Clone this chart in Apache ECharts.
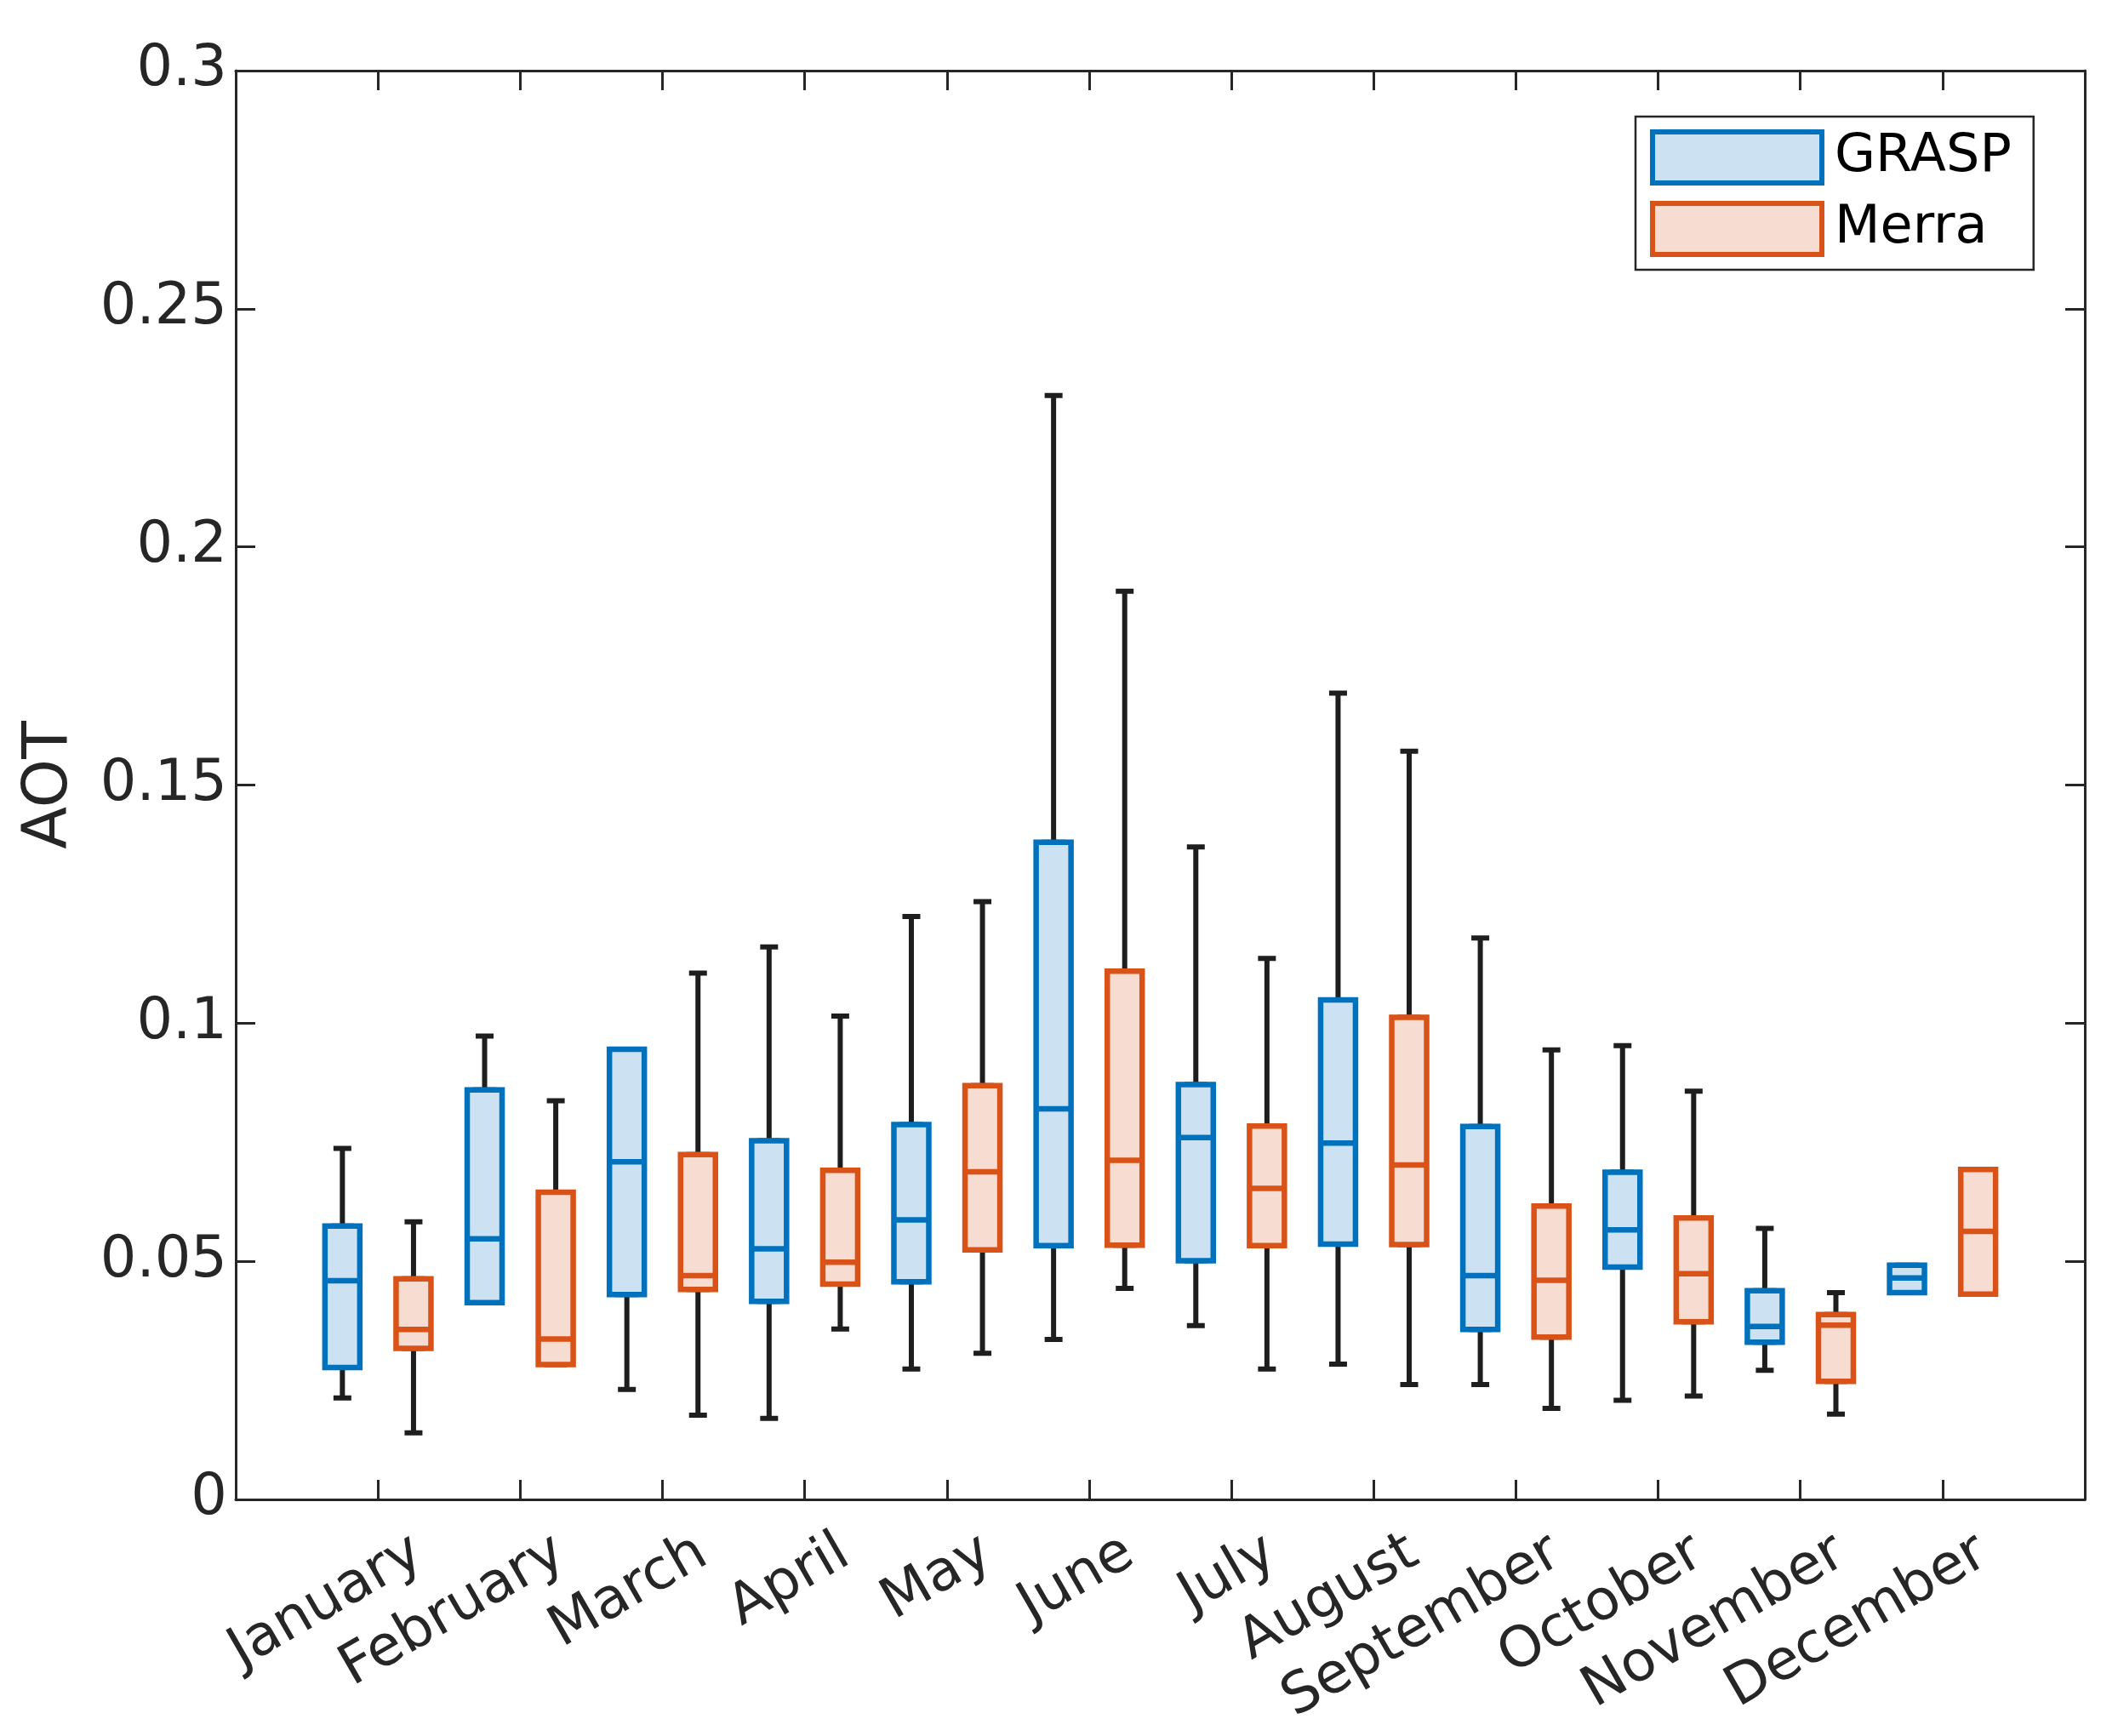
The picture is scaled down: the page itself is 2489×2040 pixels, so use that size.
<!DOCTYPE html>
<html>
<head>
<meta charset="utf-8">
<script src="https://cdn.jsdelivr.net/npm/echarts@6/dist/echarts.min.js"></script>
<style>
html,body{margin:0;padding:0;background:#fff;}
#chart{width:2489px;height:2040px;}
</style>
</head>
<body>
<div id="chart"></div>
<script>
// ---- data ----
const months = ['January','February','March','April','May','June','July','August','September','October','November','December'];
const yTicks = [0, 0.05, 0.1, 0.15, 0.2, 0.25, 0.3];

const graspMin    = [0.0213, 0.0413, 0.0231, 0.0170, 0.0274, 0.0336, 0.0365, 0.0284, 0.0241, 0.0208, 0.0271, 0.0434];
const graspQ1     = [0.0277, 0.0413, 0.0430, 0.0416, 0.0457, 0.0533, 0.0501, 0.0536, 0.0357, 0.0488, 0.0330, 0.0434];
const graspMedian = [0.0459, 0.0547, 0.0709, 0.0526, 0.0587, 0.0820, 0.0760, 0.0748, 0.0470, 0.0566, 0.0363, 0.0465];
const graspQ3     = [0.0574, 0.0860, 0.0945, 0.0753, 0.0787, 0.1380, 0.0871, 0.1049, 0.0783, 0.0687, 0.0438, 0.0492];
const graspMax    = [0.0737, 0.0973, 0.0945, 0.1160, 0.1224, 0.2318, 0.1370, 0.1693, 0.1179, 0.0953, 0.0569, 0.0492];

const merraMin    = [0.0140, 0.0283, 0.0177, 0.0358, 0.0307, 0.0443, 0.0274, 0.0241, 0.0191, 0.0217, 0.0179, 0.0431];
const merraQ1     = [0.0317, 0.0283, 0.0441, 0.0452, 0.0524, 0.0534, 0.0533, 0.0535, 0.0341, 0.0373, 0.0248, 0.0431];
const merraMedian = [0.0357, 0.0337, 0.0470, 0.0498, 0.0688, 0.0712, 0.0653, 0.0702, 0.0460, 0.0474, 0.0366, 0.0563];
const merraQ3     = [0.0463, 0.0645, 0.0724, 0.0691, 0.0869, 0.1109, 0.0784, 0.1012, 0.0616, 0.0591, 0.0388, 0.0693];
const merraMax    = [0.0583, 0.0837, 0.1105, 0.1015, 0.1255, 0.1907, 0.1136, 0.1571, 0.0944, 0.0857, 0.0434, 0.0693];

// ---- styling / layout ----
const FONT = 'DejaVu Sans';
const AX = '#262626';
const BLUE = '#0072BD', BLUE_FILL = '#CCE2F2';
const ORANGE = '#D95319', ORANGE_FILL = '#F7DCD1';
const WHISKER = '#1e1e1e';
const OFFSET = 0.25; // each month's two boxes sit either side of the month tick

function boxItems(q1, med, q3, off) {
  return months.map((m, i) => [i + 1 + off, q1[i], q1[i], med[i], q3[i], q3[i]]);
}
function whiskerItems(mn, q1, med, q3, mx, off) {
  return months.map((m, i) => [i + 1 + off, mn[i], q1[i], med[i], q3[i], mx[i]]);
}
const whiskerData = whiskerItems(graspMin, graspQ1, graspMedian, graspQ3, graspMax, -OFFSET)
  .concat(whiskerItems(merraMin, merraQ1, merraMedian, merraQ3, merraMax, OFFSET));

const chart = echarts.init(document.getElementById('chart'), null, {renderer: 'canvas'});

const xBase = {
  type: 'value', min: 0, max: 13, interval: 1,
  splitLine: {show: false}
};

const option = {
  animation: false,
  backgroundColor: '#fff',
  grid: {left: 277, right: 39, top: 83, bottom: 278, containLabel: false},
  legend: {
    left: 1922, top: 137,
    orient: 'vertical',
    backgroundColor: '#fff',
    borderColor: AX, borderWidth: 2.5,
    padding: [15, 26, 15, 17],
    itemGap: 18,
    itemWidth: 199, itemHeight: 60,
    selectedMode: false,
    textStyle: {fontFamily: FONT, fontSize: 62, color: '#000', padding: [6, 0, 0, 10]},
    data: [
      {name: 'GRASP', icon: 'rect', itemStyle: {color: BLUE_FILL, borderColor: BLUE, borderWidth: 6}},
      {name: 'Merra', icon: 'rect', itemStyle: {color: ORANGE_FILL, borderColor: ORANGE, borderWidth: 6}}
    ]
  },
  xAxis: [
    Object.assign({}, xBase, {
      position: 'bottom',
      axisLine: {show: true, onZero: false, lineStyle: {color: AX, width: 3}},
      axisTick: {show: true, inside: true, length: 23, lineStyle: {color: AX, width: 3}},
      axisLabel: {
        show: true, rotate: 30, margin: 86,
        padding: [0, -55, 0, 0],
        fontFamily: FONT, fontSize: 66, color: AX,
        formatter: function (v) { const k = Math.round(v); return (k >= 1 && k <= 12) ? months[k - 1] : ''; }
      }
    }),
    Object.assign({}, xBase, {
      position: 'top',
      axisLine: {show: true, onZero: false, lineStyle: {color: AX, width: 3}},
      axisTick: {show: true, inside: true, length: 23, lineStyle: {color: AX, width: 3}},
      axisLabel: {show: false}
    }),
    Object.assign({}, xBase, {show: false, position: 'bottom'})
  ],
  yAxis: [
    {
      type: 'value', min: yTicks[0], max: yTicks[yTicks.length - 1], interval: 0.05,
      position: 'left',
      name: 'AOT', nameLocation: 'middle', nameGap: 181, nameRotate: 90,
      nameTextStyle: {fontFamily: FONT, fontSize: 73, color: AX},
      axisLine: {show: true, onZero: false, lineStyle: {color: AX, width: 3}},
      axisTick: {show: true, inside: true, length: 23, lineStyle: {color: AX, width: 3}},
      axisLabel: {show: true, margin: 10, fontFamily: FONT, fontSize: 67, color: AX,
        formatter: function (v) { return String(+v.toFixed(2)); }},
      splitLine: {show: false}
    },
    {
      type: 'value', min: yTicks[0], max: yTicks[yTicks.length - 1], interval: 0.05,
      position: 'right',
      axisLine: {show: true, onZero: false, lineStyle: {color: AX, width: 3}},
      axisTick: {show: true, inside: true, length: 23, lineStyle: {color: AX, width: 3}},
      axisLabel: {show: false},
      splitLine: {show: false}
    }
  ],
  series: [
    {
      name: 'whiskers', type: 'boxplot', xAxisIndex: 0, yAxisIndex: 0,
      z: 2, boxWidth: [21, 21],
      itemStyle: {color: 'rgba(0,0,0,0)', borderColor: WHISKER, borderWidth: 6},
      emphasis: {disabled: true},
      data: whiskerData
    },
    {
      name: 'GRASP', type: 'boxplot', xAxisIndex: 1, yAxisIndex: 0,
      z: 3, boxWidth: [41, 41],
      itemStyle: {color: BLUE_FILL, borderColor: BLUE, borderWidth: 6.5},
      emphasis: {disabled: true},
      data: boxItems(graspQ1, graspMedian, graspQ3, -OFFSET)
    },
    {
      name: 'Merra', type: 'boxplot', xAxisIndex: 2, yAxisIndex: 0,
      z: 3, boxWidth: [41, 41],
      itemStyle: {color: ORANGE_FILL, borderColor: ORANGE, borderWidth: 6.5},
      emphasis: {disabled: true},
      data: boxItems(merraQ1, merraMedian, merraQ3, OFFSET)
    }
  ]
};
chart.setOption(option);
</script>
</body>
</html>
